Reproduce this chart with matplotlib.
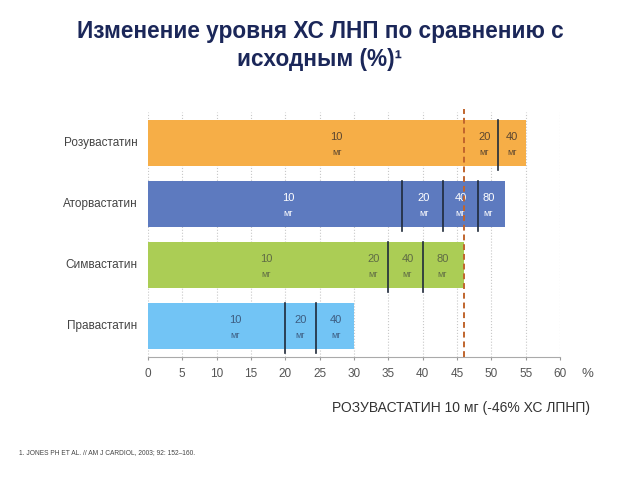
import matplotlib.pyplot as plt

# data (cumulative % reduction per dose step)
drugs = ['Розувастатин', 'Аторвастатин', 'Симвастатин', 'Правастатин']
doses = [['10', '20', '40'],
         ['10', '20', '40', '80'],
         ['10', '20', '40', '80'],
         ['10', '20', '40']]
reductions = [[46, 51, 55],
              [37, 43, 48, 52],
              [29, 35, 40, 46],
              [20, 24.5, 30]]
# which step boundaries have a drawn divider line
dividers = [[51], [37, 43, 48], [35, 40], [20, 24.5]]
# where the dose labels sit along the bar (as in the original slide)
label_x = [[27.5, 49, 53],
           [20.5, 40.2, 45.5, 49.6],
           [17.2, 32.8, 37.8, 42.9],
           [12.7, 22.2, 27.4]]
colors = ['#f6ae47', '#5d7abf', '#abcd55', '#72c4f5']
text_colors = ['#5b4630', 'white', '#5f6b45', '#3d5c80']
ticks = list(range(0, 65, 5))
ref_value = 46

plt.rcParams['font.family'] = ['Liberation Sans', 'DejaVu Sans']

fig = plt.figure(figsize=(6.4, 4.8), dpi=100)
ax = fig.add_axes([0.231, 0.256, 0.644, 0.511])

ypos = [3, 2, 1, 0]
for i, name in enumerate(drugs):
    y = ypos[i]
    ax.barh(y, reductions[i][-1], height=0.75, color=colors[i], zorder=2)
    for d, cx in zip(doses[i], label_x[i]):
        ax.text(cx, y + 0.1, d, ha='center', va='center', fontsize=8,
                color=text_colors[i], zorder=4)
        ax.text(cx, y - 0.15, 'мг', ha='center', va='center', fontsize=6.5,
                color=text_colors[i], zorder=4)
    for dv in dividers[i]:
        ax.plot([dv, dv], [y - 0.45, y + 0.375], color='#1f2a3a', lw=1.2, zorder=3)
    ax.text(-1.5, y, name, ha='right', va='center', fontsize=8.5, color='#444444')

ax.axvline(ref_value, ymin=0, ymax=1.01, color='#c0652d', lw=1.4,
           linestyle=(0, (3, 2)), zorder=5, clip_on=False)

ax.set_xlim(0, 60)
ax.set_ylim(-0.51, 3.51)
ax.set_xticks(ticks)
ax.set_xticklabels([str(t) for t in ticks], fontsize=8.5, color='#555555')
ax.set_yticks([])
ax.tick_params(axis='x', length=2, color='#999999', pad=6)
ax.grid(axis='x', linestyle=':', color='#c8c8c8', lw=0.8, zorder=0)
for s in ['top', 'right', 'left']:
    ax.spines[s].set_visible(False)
ax.spines['bottom'].set_color('#aaaaaa')
ax.annotate('%', xy=(64, 0), xycoords=('data', 'axes fraction'),
            xytext=(0, -8), textcoords='offset points', ha='center', va='top',
            fontsize=9.5, color='#555555', annotation_clip=False)

fig.text(0.5, 0.905, 'Изменение уровня ХС ЛНП по сравнению с\nисходным (%)¹',
         ha='center', va='center', fontsize=16.3, fontweight='bold',
         color='#1b2759', linespacing=1.25)
fig.text(0.922, 0.15, 'РОЗУВАСТАТИН 10 мг (-46% ХС ЛПНП)', ha='right', va='center',
         fontsize=10, color='#333333')
fig.text(0.03, 0.058, '1. JONES PH ET AL. // AM J CARDIOL, 2003; 92: 152–160.',
         ha='left', va='center', fontsize=4.8, color='#444444')

fig.savefig('out.png', dpi=100, facecolor='white')
